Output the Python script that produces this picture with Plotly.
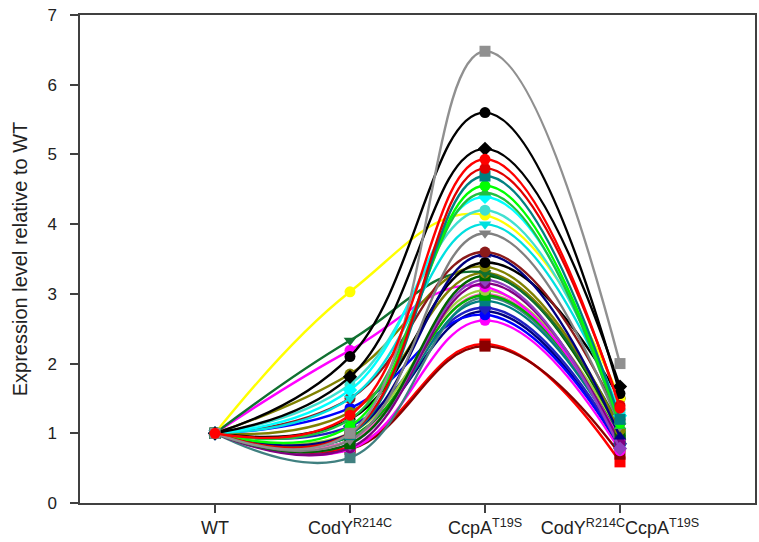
import plotly.graph_objects as go

categories = ["WT", "CodY<sup>R214C</sup>", "CcpA<sup>T19S</sup>", "CodY<sup>R214C</sup>CcpA<sup>T19S</sup>"]
x_pos = [1, 2, 3, 4]
y_ticks = [0, 1, 2, 3, 4, 5, 6, 7]

# Each series: values at WT, CodY, CcpA, double mutant
series_values = [
    [1.0, 0.80, 2.28, 0.59],
    [1.0, 0.77, 2.25, 0.70],
    [1.0, 0.77, 2.62, 0.75],
    [1.0, 0.95, 2.75, 0.80],
    [1.0, 1.36, 2.70, 0.82],
    [1.0, 1.10, 2.80, 0.85],
    [1.0, 0.65, 2.95, 0.90],
    [1.0, 0.90, 2.90, 0.90],
    [1.0, 0.90, 3.00, 0.95],
    [1.0, 0.95, 2.98, 0.95],
    [1.0, 1.00, 3.05, 1.00],
    [1.0, 2.19, 3.10, 0.90],
    [1.0, 0.79, 3.15, 0.86],
    [1.0, 0.85, 3.20, 0.78],
    [1.0, 0.85, 3.26, 1.00],
    [1.0, 1.30, 3.30, 1.05],
    [1.0, 2.33, 3.30, 1.10],
    [1.0, 1.85, 3.39, 1.05],
    [1.0, 1.20, 3.45, 1.50],
    [1.0, 1.00, 3.56, 0.95],
    [1.0, 1.50, 3.60, 1.20],
    [1.0, 0.90, 3.87, 1.10],
    [1.0, 1.50, 4.00, 1.30],
    [1.0, 3.03, 4.13, 1.50],
    [1.0, 1.70, 4.20, 1.30],
    [1.0, 1.62, 4.39, 1.25],
    [1.0, 1.20, 4.45, 1.10],
    [1.0, 1.10, 4.55, 1.15],
    [1.0, 0.98, 4.69, 1.20],
    [1.0, 1.00, 4.80, 1.40],
    [1.0, 1.81, 5.08, 1.67],
    [1.0, 2.10, 5.60, 1.57],
    [1.0, 1.00, 6.48, 2.00],
    [1.0, 1.26, 4.93, 1.36],
]
series_colors = [
    "#ff0000", "#8b0000", "#ff00ff", "#000080", "#0000ff", "#2020c0",
    "#408080", "#008080", "#ff60c0", "#00b000", "#a0d040", "#ff00ff",
    "#800080", "#9040c0", "#006400", "#808000", "#107030", "#808000",
    "#000000", "#000080", "#8b1a1a", "#808080", "#00e0e0", "#ffff00",
    "#40e0d0", "#00ffff", "#20c040", "#00ff00", "#008080", "#e00000",
    "#000000", "#000000", "#909090", "#ff0000",
]
series_symbols = [
    "square", "square", "circle", "triangle-down", "circle", "diamond",
    "square", "square", "circle", "square", "circle", "circle",
    "circle", "diamond", "square", "circle", "triangle-down", "circle",
    "circle", "triangle-up", "circle", "triangle-down", "triangle-down", "circle",
    "circle", "diamond", "triangle-up", "circle", "square", "circle",
    "diamond", "circle", "square", "circle",
]

fig = go.Figure()
for vals, col, sym in zip(series_values, series_colors, series_symbols):
    fig.add_trace(go.Scatter(
        x=x_pos, y=vals, mode="lines+markers",
        line=dict(color=col, width=2.4, shape="spline", smoothing=1.2),
        marker=dict(color=col, symbol=sym, size=11, line=dict(width=0)),
        showlegend=False, hoverinfo="skip",
    ))

axis_line = dict(showline=True, linecolor="#404040", linewidth=1.5, mirror=True,
                 ticks="outside", ticklen=8, tickcolor="#404040", tickwidth=1.5,
                 showgrid=False, zeroline=False)

fig.update_layout(
    width=759, height=542,
    margin=dict(l=80, r=2, t=15, b=39),
    paper_bgcolor="white", plot_bgcolor="white",
    font=dict(family="Liberation Sans, Arial, sans-serif", color="#222222"),
    xaxis=dict(range=[0, 5], tickvals=x_pos, ticktext=categories,
               tickfont=dict(size=18), **axis_line),
    yaxis=dict(range=[0, 7], tickvals=y_ticks, tickfont=dict(size=17),
               ticklabelstandoff=10,
               title=dict(text="Expression level relative to WT", font=dict(size=20), standoff=14),
               **axis_line),
)

fig.write_html("out.html")
